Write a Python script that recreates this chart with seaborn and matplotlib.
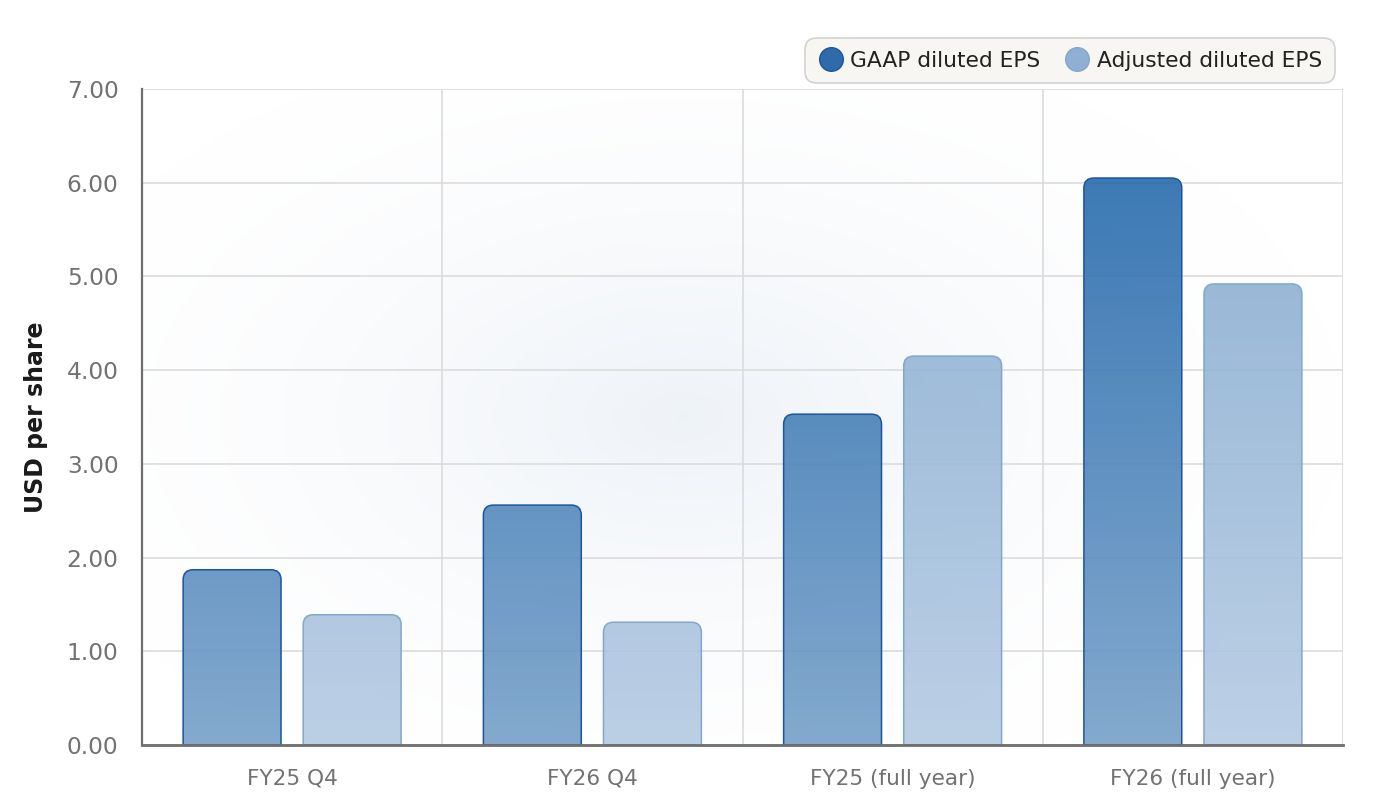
import numpy as np
import pandas as pd
import matplotlib
matplotlib.use("Agg")
import matplotlib.pyplot as plt
import seaborn as sns
from matplotlib.path import Path
from matplotlib.patches import PathPatch
from matplotlib.lines import Line2D
from matplotlib.colors import to_rgb

# chart data
periods = ["FY25 Q4", "FY26 Q4", "FY25 (full year)", "FY26 (full year)"]
series = ["GAAP diluted EPS", "Adjusted diluted EPS"]
gaap_eps = [1.87, 2.56, 3.53, 6.05]
adjusted_eps = [1.39, 1.31, 4.15, 4.92]
y_ticks = [0, 1, 2, 3, 4, 5, 6, 7]

# gradient colours per series (top of axis -> bottom of axis)
grad_top = {"GAAP diluted EPS": "#1a62a8", "Adjusted diluted EPS": "#7fa6cd"}
grad_bottom = {"GAAP diluted EPS": "#76a0c9", "Adjusted diluted EPS": "#b5cbe3"}
edge_col = {"GAAP diluted EPS": "#1b55a0", "Adjusted diluted EPS": "#82a6ce"}
legend_col = {"GAAP diluted EPS": "#2f6aab", "Adjusted diluted EPS": "#8fb0d4"}

df = pd.DataFrame({
    "period": periods * 2,
    "measure": [series[0]] * 4 + [series[1]] * 4,
    "eps": gaap_eps + adjusted_eps,
})


def rounded_top_path(x0, x1, y0, y1, rx, ry):
    verts = [(x0, y0), (x0, y1 - ry), (x0, y1), (x0 + rx, y1),
             (x1 - rx, y1), (x1, y1), (x1, y1 - ry), (x1, y0), (x0, y0)]
    codes = [Path.MOVETO, Path.LINETO, Path.CURVE3, Path.CURVE3,
             Path.LINETO, Path.CURVE3, Path.CURVE3, Path.LINETO, Path.CLOSEPOLY]
    return Path(verts, codes)


def gradient_image(top, bottom, alpha):
    t = np.linspace(0, 1, 256)[:, None]
    c0 = np.array(to_rgb(top))
    c1 = np.array(to_rgb(bottom))
    rgb = c0[None, :] * (1 - t) + c1[None, :] * t
    img = np.ones((256, 1, 4))
    img[:, 0, :3] = rgb
    img[:, 0, 3] = alpha
    return img


sns.set_style("white")
fig = plt.figure(figsize=(13.8, 8.08), dpi=100)
ax = fig.add_axes([142 / 1380, 63 / 808, 1201 / 1380, 656 / 808])

sns.barplot(data=df, x="period", y="eps", hue="measure", hue_order=series,
            order=periods, width=0.8, gap=0.185, legend=False, ax=ax,
            errorbar=None)

ax.set_xlim(-0.5, 3.5)
ax.set_ylim(0, 7)

# radial background wash
yy, xx = np.mgrid[0:1:300j, 0:1:300j]
dist = np.sqrt(((xx - 0.45) / 0.55) ** 2 + ((yy - 0.5) / 0.6) ** 2)
w = np.clip(1 - dist, 0, 1) ** 1.5
bg = np.ones((300, 300, 3))
center = np.array([0.935, 0.952, 0.972])
bg = bg * (1 - w[..., None]) + center[None, None, :] * w[..., None]
ax.imshow(bg, extent=(0, 1, 0, 1), transform=ax.transAxes, aspect="auto",
          zorder=-5, interpolation="bilinear")

# rounded, gradient-filled bars built from seaborn's patches
rx = 10 / (1201 / 4)
ry = 10 / (656 / 7)
for bar in list(ax.patches):
    x0 = bar.get_x()
    bw = bar.get_width()
    h = bar.get_height()
    cx = x0 + bw / 2
    name = series[0] if cx - round(cx) < 0 else series[1]
    bar.set_visible(False)
    path = rounded_top_path(x0, x0 + bw, 0, h, rx, ry)
    outline = PathPatch(path, facecolor="none", edgecolor=edge_col[name],
                        lw=1.1, zorder=3)
    ax.add_patch(outline)
    im = ax.imshow(gradient_image(grad_top[name], grad_bottom[name], 0.9),
                   extent=(x0, x0 + bw, 0, 7), aspect="auto", zorder=2,
                   interpolation="bilinear")
    im.set_clip_path(outline)

ax.set_xlim(-0.5, 3.5)
ax.set_ylim(0, 7)

# axes styling
ax.set_axisbelow(True)
ax.set_yticks(y_ticks)
ax.set_yticklabels([f"{v:.2f}" for v in y_ticks])
ax.set_xticks(range(len(periods)))
ax.set_xticklabels(periods)
ax.set_xticks(np.arange(-0.5, 4.0, 1.0), minor=True)
ax.grid(True, axis="y", color="#dcdcdc", lw=1.2)
ax.grid(True, axis="x", which="minor", color="#dcdcdc", lw=1.2)
ax.grid(False, axis="x", which="major")

ax.tick_params(axis="y", length=11, width=1.2, color="#dcdcdc", pad=6,
               labelsize=16.8, labelcolor="#727272")
ax.tick_params(axis="x", which="major", length=0, pad=17, labelsize=15.6,
               labelcolor="#727272")
ax.tick_params(axis="x", which="minor", length=11, width=1.2, color="#dcdcdc")

for s in ["top", "right"]:
    ax.spines[s].set_visible(False)
ax.spines["left"].set_color("#6e6e6e")
ax.spines["left"].set_linewidth(1.6)
ax.spines["bottom"].set_color("#6e6e6e")
ax.spines["bottom"].set_linewidth(2.0)
ax.spines["bottom"].set_zorder(4)

ax.set_xlabel("")
ax.set_ylabel("USD per share", fontsize=17, fontweight="bold", color="#1a1a1a",
              labelpad=13)

handles = [Line2D([], [], marker="o", ls="none", markersize=17,
                  markerfacecolor=legend_col[n], markeredgecolor=edge_col[n],
                  markeredgewidth=1.0, label=n) for n in series]
leg = fig.legend(handles=handles, loc="upper right",
                 bbox_to_anchor=(1335 / 1380, 1 - 38 / 808), ncol=2,
                 fontsize=15.7, frameon=True, fancybox=True,
                 handletextpad=0.3, columnspacing=1.1, borderpad=0.58,
                 handlelength=1.2, borderaxespad=0)
frame = leg.get_frame()
frame.set_boxstyle("round,pad=0,rounding_size=0.55")
frame.set_facecolor("#f7f6f3")
frame.set_edgecolor("#d2d2d2")
frame.set_linewidth(1.2)
frame.set_alpha(1)
for t in leg.get_texts():
    t.set_color("#222222")

fig.savefig("out.png", dpi=100)
